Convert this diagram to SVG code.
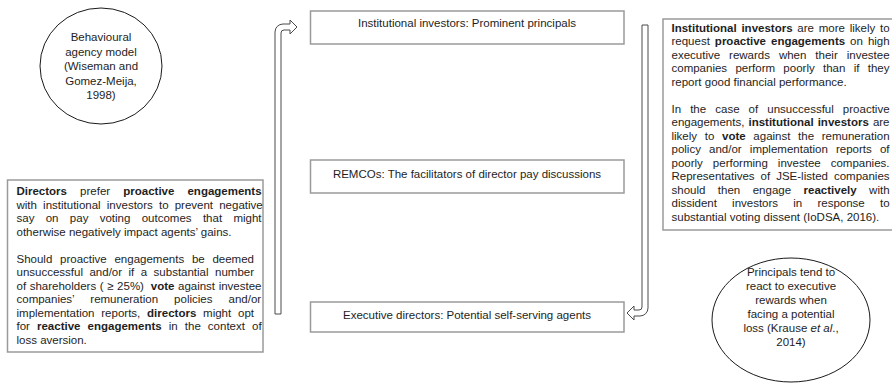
<svg xmlns="http://www.w3.org/2000/svg" width="892" height="384" viewBox="0 0 892 384">
  <style>
    text { font-family: "Liberation Sans", Arial, sans-serif; font-size: 11.5px; fill: #1e1e1e; }
    .b { font-weight: bold; }
    .i { font-style: italic; }
    .mid { text-anchor: middle; }
    .box { fill: #ffffff; stroke: #9a9a9a; stroke-width: 1.5; }
    .oval { fill: #ffffff; stroke: #1a1a1a; stroke-width: 1; }
    .flow { fill: #ffffff; stroke: #4a4a4a; stroke-width: 1; stroke-linejoin: miter; }
  </style>
  <rect width="892" height="384" fill="#ffffff"/>

  <!-- theory oval, top left -->
  <g id="bam-oval">
    <ellipse class="oval" cx="101" cy="66" rx="61" ry="58"/>
    <text class="mid" x="101" y="41">Behavioural</text>
    <text class="mid" x="101" y="55.5">agency model</text>
    <text class="mid" x="101" y="70">(Wiseman and</text>
    <text class="mid" x="101" y="84.5">Gomez-Meija,</text>
    <text class="mid" x="101" y="99">1998)</text>
  </g>

  <!-- directors' perspective -->
  <g id="directors-box">
    <rect class="box" x="7.5" y="180" width="255.5" height="172"/>
    <text x="16.5" y="195" word-spacing="9.9"><tspan class="b">Directors</tspan> prefer <tspan class="b">proactive engagements</tspan></text>
    <text x="16.5" y="208.5" word-spacing="2.96">with institutional investors to prevent negative</text>
    <text x="16.5" y="222" word-spacing="8.13">say on pay voting outcomes that might</text>
    <text x="16.5" y="235.5">otherwise negatively impact agents’ gains.</text>
    <text x="16.5" y="262.5" word-spacing="4.55">Should proactive engagements be deemed</text>
    <text x="16.5" y="276" word-spacing="3.27">unsuccessful and/or if a substantial number</text>
    <text x="16.5" y="289.5" word-spacing="0.4">of shareholders ( ≥ 25%) <tspan class="b" dx="3.2">vote</tspan> against investee</text>
    <text x="16.5" y="303" word-spacing="12.86">companies’ remuneration policies and/or</text>
    <text x="16.5" y="316.5" word-spacing="3.6">implementation reports, <tspan class="b">directors</tspan> might opt</text>
    <text x="16.5" y="330" word-spacing="3.88">for <tspan class="b">reactive engagements</tspan> in the context of</text>
    <text x="16.5" y="343.5">loss aversion.</text>
  </g>

  <!-- stakeholder boxes, centre column -->
  <g id="investors-box">
    <rect class="box" x="310.5" y="11" width="313.5" height="33"/>
    <text class="mid" x="467" y="27">Institutional investors: Prominent principals</text>
  </g>
  <g id="remco-box">
    <rect class="box" x="310.5" y="160" width="313.5" height="33"/>
    <text class="mid" x="467" y="178">REMCOs: The facilitators of director pay discussions</text>
  </g>
  <g id="executives-box">
    <rect class="box" x="310.5" y="302" width="313.5" height="30"/>
    <text class="mid" x="467" y="319">Executive directors: Potential self-serving agents</text>
  </g>

  <!-- investors' perspective -->
  <g id="investors-text">
    <rect class="box" x="663" y="19" width="240" height="211"/>
    <text x="671.5" y="31.5" word-spacing="1.56"><tspan class="b">Institutional investors</tspan> are more likely to</text>
    <text x="671.5" y="45" word-spacing="1.8">request <tspan class="b">proactive engagements</tspan> on high</text>
    <text x="671.5" y="58.5" word-spacing="5.77">executive rewards when their investee</text>
    <text x="671.5" y="72" word-spacing="5.12">companies perform poorly than if they</text>
    <text x="671.5" y="85.5">report good financial performance.</text>
    <text x="671.5" y="112.5" word-spacing="5.89">In the case of unsuccessful proactive</text>
    <text x="671.5" y="126" word-spacing="0.87">engagements, <tspan class="b">institutional investors</tspan> are</text>
    <text x="671.5" y="139.5" word-spacing="4.48">likely to <tspan class="b">vote</tspan> against the remuneration</text>
    <text x="671.5" y="153" word-spacing="4.97">policy and/or implementation reports of</text>
    <text x="671.5" y="166.5" word-spacing="6.83">poorly performing investee companies.</text>
    <text x="671.5" y="180" word-spacing="2.8">Representatives of JSE-listed companies</text>
    <text x="671.5" y="193.5" word-spacing="9.27">should then engage <tspan class="b">reactively</tspan> with</text>
    <text x="671.5" y="207" word-spacing="12">dissident investors in response to</text>
    <text x="671.5" y="220.5">substantial voting dissent (IoDSA, 2016).</text>
  </g>

  <!-- theory oval, bottom right -->
  <g id="loss-oval">
    <ellipse class="oval" cx="791" cy="320" rx="79" ry="62"/>
    <text class="mid" x="791" y="276">Principals tend to</text>
    <text class="mid" x="791" y="290">react to executive</text>
    <text class="mid" x="791" y="304">rewards when</text>
    <text class="mid" x="791" y="318">facing a potential</text>
    <text class="mid" x="791" y="332">loss (Krause <tspan class="i">et al</tspan>.,</text>
    <text class="mid" x="791" y="346">2014)</text>
  </g>

  <!-- bent block arrows -->
  <g id="connectors">
    <path class="flow" d="M275,314 L275,32 A8,8 0 0 1 283,24 L290,24 L290,20 L297,27 L290,34 L290,30 L284,30 A3,3 0 0 0 281,33 L281,314 Z"/>
    <path class="flow" d="M642,25 L648,25 L648,308 A8,8 0 0 1 640,316 L634,316 L634,320 L627,313 L634,306 L634,310 L639,310 A3,3 0 0 0 642,307 Z"/>
  </g>
</svg>
